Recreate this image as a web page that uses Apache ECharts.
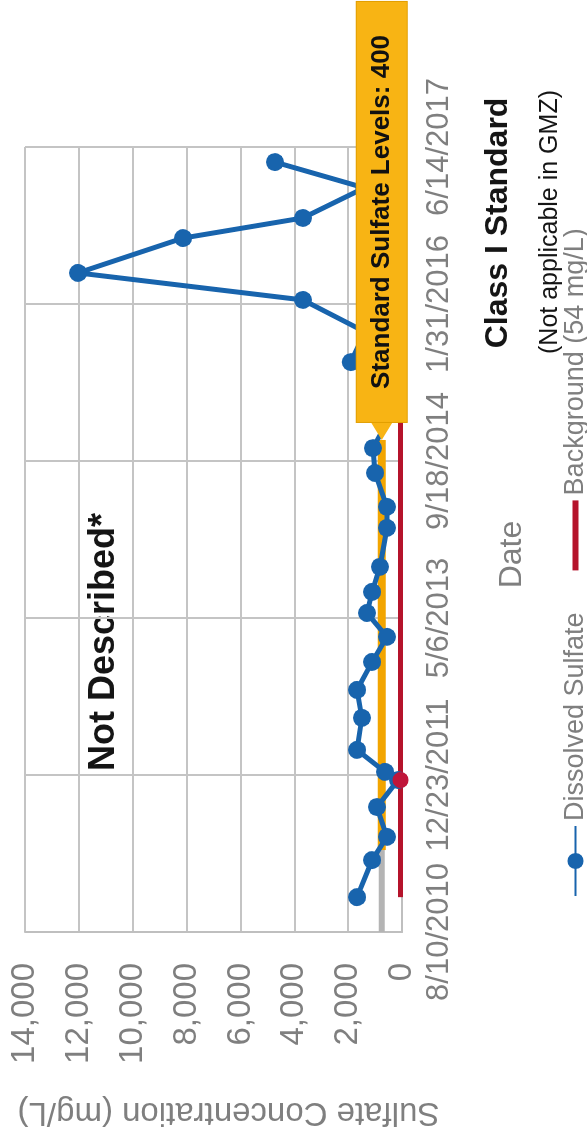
<!DOCTYPE html>
<html>
<head>
<meta charset="utf-8">
<title>Dissolved Sulfate</title>
<script src="https://cdn.jsdelivr.net/npm/echarts@6/dist/echarts.min.js"></script>
<style>
html, body { margin: 0; padding: 0; width: 587px; height: 1130px; overflow: hidden; background: #fff; }
/* the chart is drawn landscape and turned a quarter turn, like the scanned page */
#chart { position: absolute; left: 0; top: 0; width: 1130px; height: 587px;
         transform-origin: 0 0; transform: translateY(1130px) rotate(-90deg); }
</style>
</head>
<body>
<div id="chart"></div>
<script>
// sampling dates and dissolved sulfate (mg/L)
var sampleDates = ['2010-11-29', '2011-03-27', '2011-06-09', '2011-09-12', '2011-12-07', '2012-01-02',
                   '2012-03-12', '2012-06-22', '2012-09-19', '2012-12-17', '2013-03-07', '2013-05-22',
                   '2013-07-28', '2013-10-16', '2014-02-17', '2014-04-25', '2014-08-11', '2014-10-29',
                   '2015-03-17', '2015-07-30', '2015-11-03', '2016-02-13', '2016-05-09', '2016-08-28',
                   '2016-10-31', '2017-02-04', '2017-04-27'];
var dissolvedSulfate = [1670, 1110, 560, 930, 150, 630,
                        1670, 1490, 1670, 1110, 560, 1300,
                        1110, 820, 560, 560, 1000, 1080,
                        200, 1900, 1370, 3680, 12030, 8130,
                        3680, 1400, 4720];

// background line (54 mg/L) and the red marker on it
var backgroundDates = ['2010-11-29', '2017-04-27'];
var backgroundLevel = 54;
var backgroundMarkDate = '2011-12-07';

// standard line: grey start, then orange up to the callout
var standardLevel = 750;
var standardGreyDates = ['2010-08-10', '2011-04-28'];
var standardDates = ['2011-04-28', '2014-11-24'];

// axis ticks
var dateTicks = ['8/10/2010', '12/23/2011', '5/6/2013', '9/18/2014', '1/31/2016', '6/14/2017'];
var valueTicks = [0, 2000, 4000, 6000, 8000, 10000, 12000, 14000];

var font = "'Liberation Sans', Arial, sans-serif";
var startDay = Date.UTC(2010, 7, 10);

// days since 8/10/2010
function dayOf(s) {
    var p = s.split('-');
    return (Date.UTC(+p[0], +p[1] - 1, +p[2]) - startDay) / 86400000;
}

function pairs(dates, vals) {
    return dates.map(function (d, i) {
        return [dayOf(d), Array.isArray(vals) ? vals[i] : vals];
    });
}

var chart = echarts.init(document.getElementById('chart'));

var option = {
    backgroundColor: '#fff',
    animation: false,
    grid: { left: 198, right: 147, top: 25, bottom: 185, outerBoundsMode: 'none' },
    legend: {
        data: [
            'Dissolved Sulfate',
            { name: 'Background (54 mg/L)', icon: 'path://M0,0H70V6H0Z' }
        ],
        left: 228,
        top: 557,
        itemWidth: 70,
        itemHeight: 20,
        itemGap: 42,
        textStyle: { color: '#7f7f7f', fontSize: 27, fontFamily: font }
    },
    xAxis: {
        type: 'value',
        min: 0,
        max: 2500,
        interval: 500,
        name: 'Date',
        nameLocation: 'middle',
        nameGap: 94,
        nameTextStyle: { color: '#7f7f7f', fontSize: 32, fontFamily: font, padding: [0, 30, 0, 0] },
        axisLine: { lineStyle: { color: '#bfbfbf', width: 2 } },
        axisTick: { show: false },
        axisLabel: {
            color: '#7f7f7f', fontSize: 31, fontFamily: font, margin: 22,
            formatter: function (v) { return dateTicks[Math.round(v / 500)]; }
        },
        splitLine: { show: true, lineStyle: { color: '#c4c4c4', width: 2 } }
    },
    yAxis: {
        type: 'value',
        min: 0,
        max: 14000,
        interval: 2000,
        name: 'Sulfate Concentration (mg/L)',
        nameLocation: 'middle',
        nameRotate: 90,
        nameGap: 164,
        nameTextStyle: { color: '#7f7f7f', fontSize: 33, fontFamily: font, padding: [0, 30, 0, 0] },
        axisLine: { show: true, lineStyle: { color: '#bfbfbf', width: 2 } },
        axisTick: { show: false },
        axisLabel: {
            color: '#7f7f7f', fontSize: 33, fontFamily: font, margin: 31,
            formatter: function (v) { return valueTicks.indexOf(v) >= 0 ? v.toLocaleString('en-US') : ''; }
        },
        splitLine: { lineStyle: { color: '#c4c4c4', width: 2 } }
    },
    series: [
        {
            name: 'Standard start',
            type: 'line',
            symbol: 'none',
            lineStyle: { color: '#b4b4b4', width: 6 },
            data: pairs(standardGreyDates, standardLevel)
        },
        {
            name: 'Standard',
            type: 'line',
            symbol: 'none',
            lineStyle: { color: '#f2a500', width: 8 },
            data: pairs(standardDates, standardLevel),
            markPoint: {
                z: 10,
                symbol: 'triangle',
                symbolSize: [22, 18],
                symbolRotate: 90,
                symbolOffset: [9, 0],
                itemStyle: { color: '#f8b414' },
                label: {
                    show: true,
                    position: 'right',
                    distance: 0,
                    formatter: 'Standard Sulfate Levels: 400',
                    color: '#111',
                    fontSize: 26,
                    fontWeight: 'bold',
                    fontFamily: font,
                    backgroundColor: '#f8b414',
                    borderColor: '#e29e00',
                    borderWidth: 1,
                    padding: [12, 33]
                },
                data: [{ coord: [dayOf(standardDates[1]), standardLevel] }]
            }
        },
        {
            name: 'Dissolved Sulfate',
            type: 'line',
            symbol: 'circle',
            symbolSize: 18,
            color: '#1864ad',
            lineStyle: { width: 5 },
            data: pairs(sampleDates, dissolvedSulfate)
        },
        {
            name: 'Background (54 mg/L)',
            type: 'line',
            symbol: 'none',
            color: '#b5132b',
            lineStyle: { width: 5 },
            data: pairs(backgroundDates, backgroundLevel),
            markPoint: {
                symbol: 'circle',
                symbolSize: 16,
                itemStyle: { color: '#c0163a' },
                label: { show: false },
                data: [{ coord: [dayOf(backgroundMarkDate), backgroundLevel] }]
            }
        }
    ],
    graphic: [
        { type: 'text', x: 488, y: 104, style: { text: 'Not Described*', fill: '#151515', font: 'bold 36px ' + font, align: 'center', verticalAlign: 'middle' } },
        { type: 'text', x: 907, y: 498, style: { text: 'Class I Standard', fill: '#151515', font: 'bold 32px ' + font, align: 'center', verticalAlign: 'middle' } },
        { type: 'text', x: 908, y: 550, style: { text: '(Not applicable in GMZ)', fill: '#151515', font: '25px ' + font, align: 'center', verticalAlign: 'middle' } }
    ]
};

chart.setOption(option);
</script>
</body>
</html>
